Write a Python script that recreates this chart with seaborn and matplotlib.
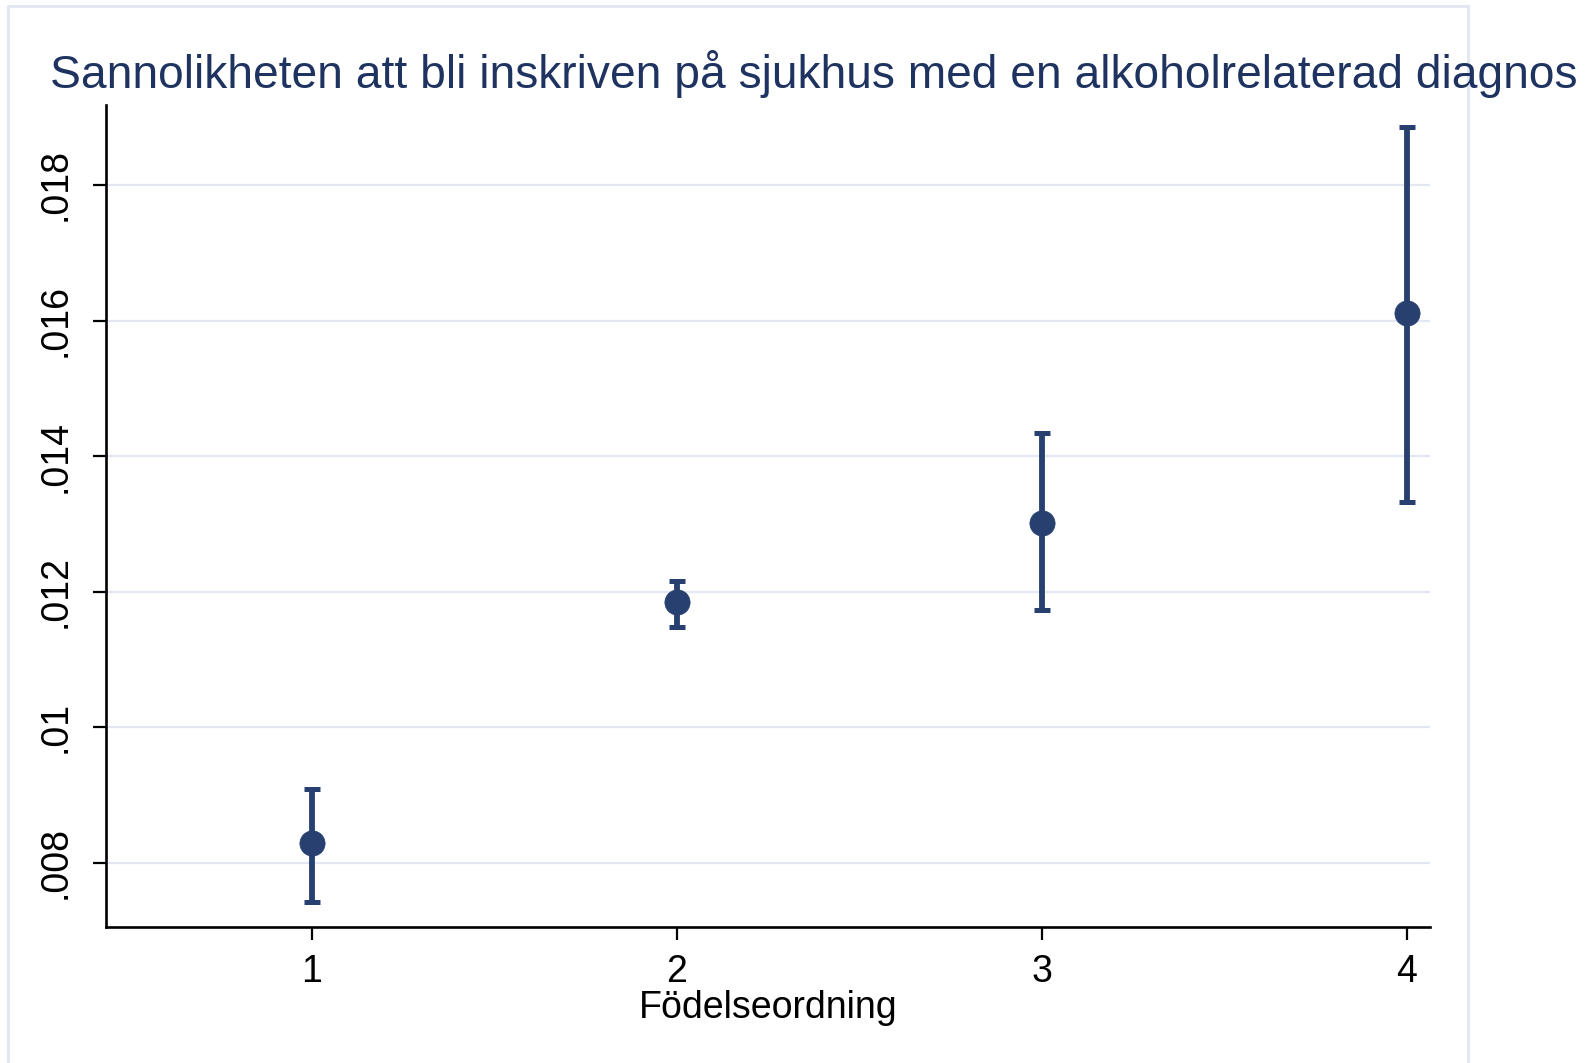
import matplotlib.pyplot as plt
import matplotlib.patches as mpatches
import seaborn as sns
import numpy as np
import pandas as pd

birth_order = [1, 2, 3, 4]
probability = [0.00829, 0.01184, 0.01302, 0.01611]
ci_lower = [0.00742, 0.01148, 0.01173, 0.01333]
ci_upper = [0.00909, 0.01216, 0.01434, 0.01886]
y_ticks = [0.008, 0.010, 0.012, 0.014, 0.016, 0.018]
y_tick_labels = ['.008', '.01', '.012', '.014', '.016', '.018']

title = "Sannolikheten att bli inskriven på sjukhus med en alkoholrelaterad diagnos"
x_label = "Födelseordning"

navy = '#27406f'
title_color = '#1f3361'
grid_color = '#e3e7f1'

df = pd.DataFrame({'order': birth_order, 'p': probability,
                   'lo': ci_lower, 'hi': ci_upper})

sns.set_theme(style="white")
plt.rcParams['font.family'] = ['Liberation Sans', 'DejaVu Sans']

fig = plt.figure(figsize=(15.91, 10.63), dpi=100)
ax = fig.add_axes([0.0666, 0.1282, 0.8322, 0.773])

# outer frame (Stata graph region)
frame = mpatches.Rectangle((0.005, -0.02), 0.9177, 1.0144, transform=fig.transFigure,
                           fill=False, edgecolor=grid_color, linewidth=2.2, zorder=0)
fig.patches.append(frame)

for yt in y_ticks:
    ax.axhline(yt, color=grid_color, linewidth=1.6, zorder=0)

ax.errorbar(df['order'], df['p'],
            yerr=[df['p'] - df['lo'], df['hi'] - df['p']],
            fmt='none', ecolor=navy, elinewidth=4.2, capsize=6, capthick=3.6, zorder=2)
sns.scatterplot(data=df, x='order', y='p', ax=ax, color=navy, s=330,
                edgecolor=navy, linewidth=0.5, zorder=3, legend=False)

ax.set_xlim(0.4356, 4.063)
ax.set_ylim(0.007056, 0.01918)
ax.set_xticks(birth_order)
ax.set_xticklabels([str(b) for b in birth_order], fontsize=27, color='black')
ax.set_yticks(y_ticks)
ax.set_yticklabels(y_tick_labels, fontsize=27, color='black', rotation=90, va='center')
ax.tick_params(axis='both', which='both', length=9.5, width=1.6, color='black',
               left=True, bottom=True)
ax.tick_params(axis='x', pad=10)
ax.tick_params(axis='y', pad=14)

ax.set_xlabel(x_label, fontsize=27, color='black', labelpad=0)
ax.set_ylabel('')
ax.grid(False)

for side in ['top', 'right']:
    ax.spines[side].set_visible(False)
for side in ['left', 'bottom']:
    ax.spines[side].set_color('black')
    ax.spines[side].set_linewidth(1.9)

fig.text(0.5117, 0.9172, title, ha='center', va='baseline',
         fontsize=33.2, color=title_color)

fig.savefig('out.png', dpi=100, facecolor='white')
